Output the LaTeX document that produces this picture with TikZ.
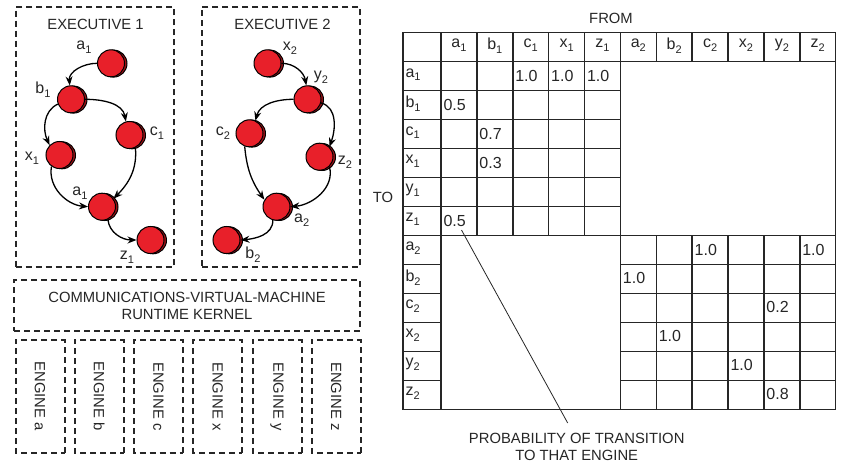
\documentclass[tikz,border=0pt]{standalone}
\usepackage{fontspec}
\setmainfont{Liberation Sans}
\usetikzlibrary{arrows.meta,shadows}
\definecolor{nred}{HTML}{E8202A}
\definecolor{dred}{HTML}{9B1116}
\definecolor{ink}{HTML}{262626}
\newcommand{\sbx}[1]{\raisebox{-3.8pt}{\fontsize{11}{11}\selectfont #1}}
\begin{document}
\begin{tikzpicture}[x=1pt,y=1pt,
  every node/.style={font=\fontsize{14.8}{17}\selectfont, text=ink},
  sm/.style={font=\fontsize{16}{18}\selectfont},
  dbox/.style={draw=ink, line width=2pt, dash pattern=on 6pt off 4pt},
  stnode/.style={circle, draw=black, line width=1pt, fill=nred, minimum size=27pt, inner sep=0pt,
    copy shadow={shadow xshift=2.5pt, shadow yshift=-0.3pt, fill=dred, draw=black, line width=1pt}},
  arr/.style={-{Stealth[length=9pt,width=7pt]}, line width=1.3pt, black},
  tbl/.style={draw=ink, line width=1.5pt},
]
\useasboundingbox (0,0) rectangle (841,-468);

% ---------- executive boxes ----------
\node[dbox, minimum width=158.6pt, minimum height=259.4pt] (ex1) at (95,-137) {};
\node[dbox, minimum width=158.3pt, minimum height=260pt] (ex2) at (280.9,-137) {};
\node (t1) at (95.5,-24.5) {EXECUTIVE 1};
\node (t2) at (282.5,-24.5) {EXECUTIVE 2};

% ---------- executive 1 states ----------
\node[stnode] (A1t) at (111,-63.3) {};
\node[stnode] (B1) at (71,-99.3) {};
\node[stnode] (C1) at (129.5,-135) {};
\node[stnode] (X1) at (59.5,-155) {};
\node[stnode] (A1l) at (102,-206.7) {};
\node[stnode] (Z1) at (150.5,-240) {};

\node[sm] (lA1t) at (84,-47) {a\sbx{1}};
\node[sm] (lB1) at (43,-90) {b\sbx{1}};
\node[sm] (lC1) at (157,-133) {c\sbx{1}};
\node[sm] (lX1) at (32,-158) {x\sbx{1}};
\node[sm] (lA1l) at (80,-193) {a\sbx{1}};
\node[sm] (lZ1) at (127,-257) {z\sbx{1}};

\draw[arr] (A1t.180) to[out=180,in=95] (B1.95);
\draw[arr] (B1.0) to[out=0,in=100] (C1.105);
\draw[arr] (B1.200) to[out=205,in=115] (X1.135);
\draw[arr] (C1.295) to[out=-85,in=45] (A1l.35);
\draw[arr] (X1.235) to[out=260,in=175] (A1l.180);
\draw[arr] (A1l.295) to[out=-85,in=180] (Z1.180);

% ---------- executive 2 states ----------
\node[stnode] (X2) at (267.5,-63.3) {};
\node[stnode] (Y2) at (307.5,-99.3) {};
\node[stnode] (C2) at (249.5,-133.3) {};
\node[stnode] (Z2) at (319.5,-156.7) {};
\node[stnode] (A2) at (276.5,-206.7) {};
\node[stnode] (B2) at (226.5,-240) {};

\node[sm] (lX2) at (290,-48) {x\sbx{2}};
\node[sm] (lY2) at (321,-77) {y\sbx{2}};
\node[sm] (lC2) at (223,-133) {c\sbx{2}};
\node[sm] (lZ2) at (345,-162) {z\sbx{2}};
\node[sm] (lA2) at (301.7,-220) {a\sbx{2}};
\node[sm] (lB2) at (253,-255) {b\sbx{2}};

\draw[arr] (X2.0) to[out=0,in=100] (Y2.95);
\draw[arr] (Y2.180) to[out=180,in=75] (C2.65);
\draw[arr] (Y2.345) to[out=-15,in=70] (Z2.45);
\draw[arr] (C2.250) to[out=-85,in=125] (A2.150);
\draw[arr] (Z2.315) to[out=-75,in=5] (A2.0);
\draw[arr] (A2.255) to[out=-90,in=5] (B2.0);

% ---------- kernel and engines ----------
\node[dbox, minimum width=346pt, minimum height=51pt, align=center] (cvm) at (187,-305.5)
  {COMMUNICATIONS-VIRTUAL-MACHINE\\RUNTIME KERNEL};
\foreach \e [count=\i from 0] in {a,b,c,x,y,z}
  \node[dbox, minimum width=112.7pt, minimum height=49pt, rotate=-90] (eng\e) at ({40+59.25*\i},-396.3) {ENGINE \e};

% ---------- table ----------
\node (from) at (611,-18) {FROM};
\node (to) at (383,-197) {TO};

\draw[tbl] (403,-32.3) rectangle (835.7,-409.3);
\draw[tbl] (403,-61.7) -- (835.7,-61.7);
\foreach \k in {0,...,10} \draw[tbl] ({441+35.88*\k},-32.3) -- ({441+35.88*\k},-61.7);
\draw[tbl] (441,-61.7) -- (441,-409.3);
\foreach \j in {1,...,11} \draw[tbl] (403,{-61.7-28.97*\j}) -- (441,{-61.7-28.97*\j});
\foreach \k in {1,...,4} \draw[tbl] ({441+35.88*\k},-61.7) -- ({441+35.88*\k},-235.5);
\foreach \j in {1,...,5} \draw[tbl] (441,{-61.7-28.97*\j}) -- (620.4,{-61.7-28.97*\j});
\draw[tbl] (620.4,-61.7) -- (620.4,-409.3);
\draw[tbl] (441,-235.5) -- (835.7,-235.5);
\foreach \k in {6,...,10} \draw[tbl] ({441+35.88*\k},-235.5) -- ({441+35.88*\k},-409.3);
\foreach \j in {7,...,11} \draw[tbl] (620.4,{-61.7-28.97*\j}) -- (835.7,{-61.7-28.97*\j});

\foreach \lab [count=\k from 0] in {a\sbx{1},b\sbx{1},c\sbx{1},x\sbx{1},z\sbx{1},a\sbx{2},b\sbx{2},c\sbx{2},x\sbx{2},y\sbx{2},z\sbx{2}}
  \node[sm] (h\k) at ({441+35.88*\k+17.94},-45.5) {\lab};
\foreach \lab [count=\j from 0] in {a\sbx{1},b\sbx{1},c\sbx{1},x\sbx{1},y\sbx{1},z\sbx{1},a\sbx{2},b\sbx{2},c\sbx{2},x\sbx{2},y\sbx{2},z\sbx{2}}
  \node[sm, anchor=west] (r\j) at (402,{-61.7-28.97*\j-13}) {\lab};
\foreach \k/\j/\v in {2/0/1.0,3/0/1.0,4/0/1.0,0/1/0.5,1/2/0.7,1/3/0.3,0/5/0.5,
                      7/6/1.0,10/6/1.0,5/7/1.0,9/8/0.2,6/9/1.0,8/10/1.0,9/11/0.8}
  \node[sm, anchor=west] (v\k x\j) at ({441+35.88*\k-1},{-61.7-28.97*\j-14}) {\v};

% ---------- annotation ----------
\node[align=center] (prob) at (576.7,-446.5) {PROBABILITY OF TRANSITION\\TO THAT ENGINE};
\coordinate (p0) at (461.5,-230);
\coordinate (p1) at (567.7,-423);
\draw[ink, line width=0.8pt] (p0) -- (p1);
\end{tikzpicture}
\end{document}
